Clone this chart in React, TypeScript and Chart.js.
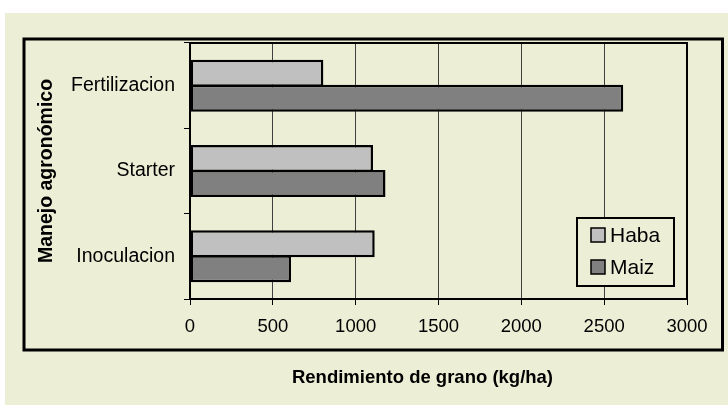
import React, { useEffect, useRef } from 'react';
import { Chart, registerables } from 'chart.js';

Chart.register(...registerables);

const categories = ['Fertilizacion', 'Starter', 'Inoculacion'];
const seriesNames = ['Haba', 'Maiz'];
const habaValues = [805, 1105, 1115];
const maizValues = [2615, 1180, 610];
const seriesColors = ['#C0C0C0', '#808080'];
const xMin = 0;
const xMax = 3000;
const xStep = 500;
const xTitle = 'Rendimiento de grano (kg/ha)';
const yTitle = 'Manejo agronómico';

const BG = '#ECEFD6';
const FONT = '"Liberation Sans", Arial, Helvetica, sans-serif';

const decorPlugin = {
  id: 'decor',
  beforeDraw(chart: any) {
    const ctx = chart.ctx as CanvasRenderingContext2D;
    ctx.save();
    ctx.fillStyle = '#FFFFFF';
    ctx.fillRect(0, 0, chart.width, chart.height);
    ctx.fillStyle = BG;
    ctx.fillRect(5, 13, chart.width - 5, chart.height - 13);
    ctx.strokeStyle = '#000';
    ctx.lineWidth = 3;
    ctx.strokeRect(24, 39, 698.5, 311);
    ctx.restore();
  },
  afterDraw(chart: any) {
    const ctx = chart.ctx as CanvasRenderingContext2D;
    const a = chart.chartArea;
    ctx.save();
    // plot frame
    ctx.strokeStyle = '#000';
    ctx.lineWidth = 2;
    ctx.strokeRect(a.left, a.top, a.right - a.left, a.bottom - a.top);

    // legend
    const lx = a.right - 110;
    const ly = a.top + 175;
    const lw = 97;
    const lh = 68;
    ctx.fillStyle = BG;
    ctx.fillRect(lx, ly, lw, lh);
    ctx.lineWidth = 2;
    ctx.strokeStyle = '#000';
    ctx.strokeRect(lx, ly, lw, lh);
    chart.data.datasets.forEach((ds: any, i: number) => {
      const cy = ly + 17 + i * 32;
      ctx.fillStyle = ds.backgroundColor;
      ctx.fillRect(lx + 14, cy - 7, 14, 14);
      ctx.lineWidth = 1.5;
      ctx.strokeStyle = '#000';
      ctx.strokeRect(lx + 14, cy - 7, 14, 14);
      ctx.fillStyle = '#000';
      ctx.font = `21px ${FONT}`;
      ctx.textAlign = 'left';
      ctx.textBaseline = 'middle';
      ctx.fillText(ds.label, lx + 33, cy + 1);
    });

    // axis titles
    ctx.fillStyle = '#000';
    ctx.font = `bold 18.5px ${FONT}`;
    ctx.textAlign = 'center';
    ctx.textBaseline = 'middle';
    ctx.fillText(xTitle, 422.5, 378);

    ctx.save();
    ctx.translate(47, (a.top + a.bottom) / 2);
    ctx.rotate(-Math.PI / 2);
    ctx.font = `bold 19.5px ${FONT}`;
    ctx.fillText(yTitle, 0, 0);
    ctx.restore();

    ctx.restore();
  },
};

export default function App() {
  const ref = useRef<HTMLCanvasElement | null>(null);

  useEffect(() => {
    if (!ref.current) return;
    const chart = new Chart(ref.current, {
      type: 'bar',
      data: {
        labels: categories,
        datasets: [
          {
            label: seriesNames[0],
            data: habaValues,
            backgroundColor: seriesColors[0],
            borderColor: '#000',
            borderWidth: 2.5,
            borderSkipped: false,
            categoryPercentage: 0.586,
            barPercentage: 1.08,
          },
          {
            label: seriesNames[1],
            data: maizValues,
            backgroundColor: seriesColors[1],
            borderColor: '#000',
            borderWidth: 2.5,
            borderSkipped: false,
            categoryPercentage: 0.586,
            barPercentage: 1.08,
          },
        ],
      },
      options: {
        indexAxis: 'y',
        responsive: false,
        animation: false,
        devicePixelRatio: 1,
        layout: { padding: { left: 25, top: 43, right: 41, bottom: 46 } },
        plugins: {
          legend: { display: false },
          tooltip: { enabled: false },
          title: { display: false },
        },
        scales: {
          x: {
            type: 'linear',
            min: xMin,
            max: xMax,
            ticks: {
              stepSize: xStep,
              color: '#000',
              font: { family: FONT, size: 18.5 },
              padding: 11,
              maxRotation: 0,
              callback: (v: any) => String(v),
            },
            grid: {
              color: '#404040',
              lineWidth: 1,
              drawTicks: true,
              tickLength: 6,
              tickColor: '#000',
            },
            border: { display: true, color: '#000', width: 2 },
            afterFit: (scale: any) => {
              scale.height = 60;
            },
          },
          y: {
            type: 'category',
            ticks: {
              color: '#000',
              font: { family: FONT, size: 19.5 },
              padding: 9,
            },
            grid: {
              drawOnChartArea: false,
              drawTicks: true,
              tickLength: 6,
              tickColor: '#000',
              offset: true,
            },
            border: { display: true, color: '#000', width: 2 },
            afterFit: (scale: any) => {
              scale.width = 165;
            },
          },
        },
      },
      plugins: [decorPlugin],
    } as any);
    return () => chart.destroy();
  }, []);

  return (
    <div style={{ position: 'fixed', left: 0, top: 0, width: 728, height: 405, background: '#fff' }}>
      <canvas ref={ref} width={728} height={405} style={{ display: 'block', width: 728, height: 405 }} />
    </div>
  );
}
